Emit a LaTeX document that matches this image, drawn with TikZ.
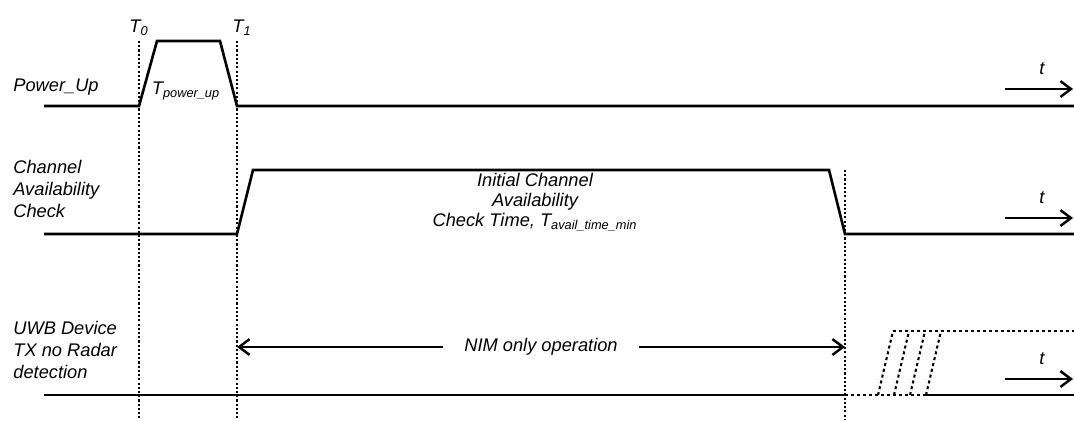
\documentclass[tikz,border=0pt]{standalone}
\usepackage{fontspec}
\setmainfont{Liberation Sans}
\usetikzlibrary{arrows.meta}

\begin{document}
\begin{tikzpicture}[
    x=0.02cm, y=-0.02cm,
    every node/.style={font=\fontsize{10.4}{12.4}\selectfont\itshape, inner sep=0pt},
    signal/.style={line width=1.5pt, line join=miter},
    marker/.style={line width=1.3pt, dash pattern=on 1.2pt off 1.2pt},
    guess/.style={line width=1.2pt, dash pattern=on 1.7pt off 1.7pt},
    timearr/.style={line width=1.5pt, -{Straight Barb[length=6pt,width=9pt,line width=1.4pt]}},
    nimarr/.style={line width=1.5pt, {Straight Barb[length=6pt,width=9pt,line width=1.4pt]}-{Straight Barb[length=6pt,width=9pt,line width=1.4pt]}},
    rowname/.style={align=left, anchor=west}
]
\useasboundingbox (0,0) rectangle (1074,420);

% time markers
\coordinate (t0) at (139,41);
\coordinate (t1) at (237,41);
\coordinate (t2) at (845,170);
\coordinate (t0 end) at (139,420);
\coordinate (t1 end) at (237,420);
\coordinate (t2 end) at (845,420);

\draw[marker] (t0) -- (t0 end);
\draw[marker] (t1) -- (t1 end);
\draw[marker] (t2) -- (t2 end);

\node (t0 lbl) at (139,28) {T\textsubscript{0}};
\node (t1 lbl) at (242,28) {T\textsubscript{1}};

% row names
\node[rowname] (pwr) at (13,87) {Power\_Up};
\node[rowname] (cac) at (13,189) {Channel\\Availability\\Check};
\node[rowname] (uwb) at (13,350) {UWB Device\\TX no Radar\\detection};

% Power_Up
\draw[signal] (44,106) -- (139,106) -- (157,41) -- (220,41) -- (237,106) -- (1074,106);
\node (tpu) at (186,91) {T\textsubscript{power\_up}};

% channel availability check
\draw[signal] (44,234) -- (237,234) -- (253,170) -- (829,170) -- (845,234) -- (1074,234);
\node[align=center, anchor=north, font=\fontsize{10.4}{11.4}\selectfont\itshape] (tavail) at (535,173)
  {Initial Channel\\Availability\\Check Time, T\textsubscript{avail\_time\_min}};

% UWB device
\draw[signal] (44,395) -- (845,395);
\draw[signal] (926,395) -- (1074,395);
\draw[guess] (845,395) -- (926,395);
\foreach \x in {878,894,910,926}
  \draw[guess] (\x,395) -- (\x+15,331);
\draw[guess] (893,331) -- (1074,331);

\coordinate (nim a) at (237,347);
\coordinate (nim b) at (845,347);
\draw[nimarr] (nim a) -- node[fill=white, inner xsep=0.42cm, inner ysep=2pt] (nim) {NIM only operation} (nim b);

% time axes
\foreach \y/\n in {89/a, 218/b, 379/c} {
  \coordinate (ax \n) at (1005,\y);
  \coordinate (ay \n) at (1073,\y);
  \draw[timearr] (ax \n) -- (ay \n);
  \node (tl \n) at (1042,\y-20) {t};
}

\end{tikzpicture}
\end{document}
